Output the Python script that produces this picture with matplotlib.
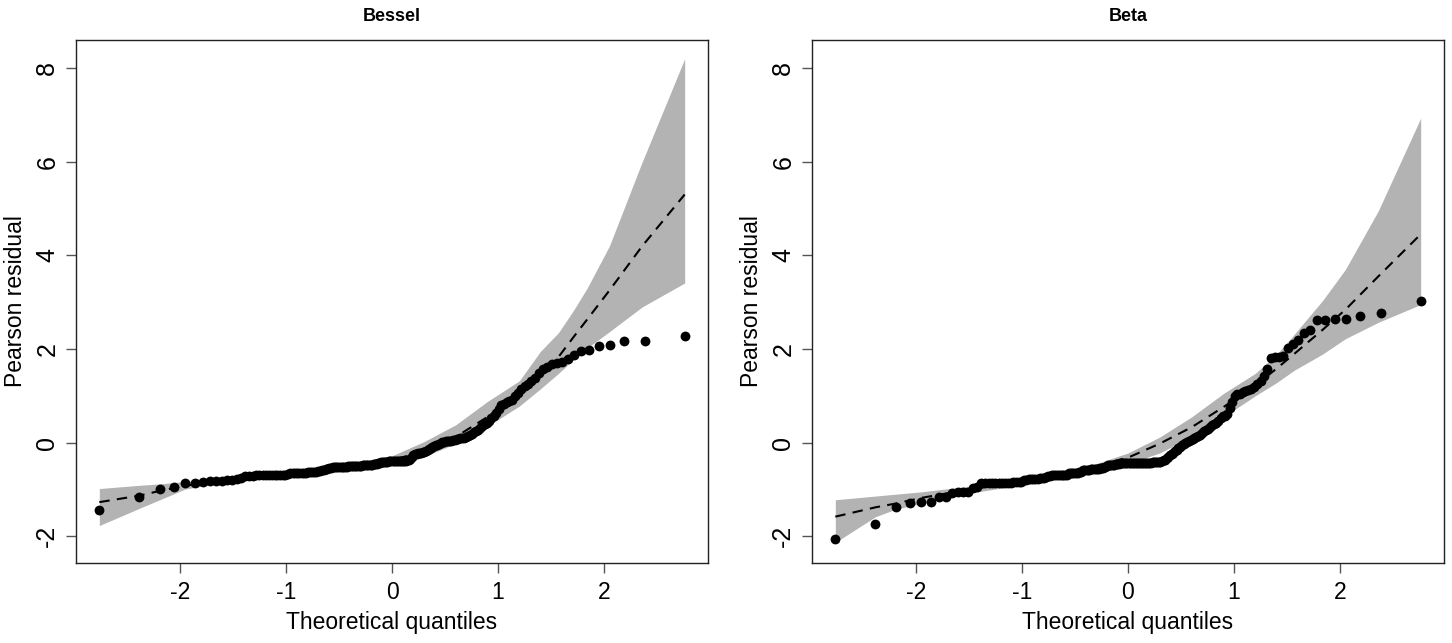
import matplotlib
matplotlib.use("Agg")
import matplotlib.pyplot as plt
import numpy as np
from statistics import NormalDist

plt.rcParams['font.family'] = ['Liberation Sans', 'DejaVu Sans']
plt.rcParams['axes.unicode_minus'] = False

# sorted Pearson residuals (Bessel model)
bessel_res = [
    -1.43, -1.17, -1.00, -0.94, -0.87, -0.86, -0.85, -0.82, -0.81, -0.81,
    -0.80, -0.79, -0.77, -0.75, -0.72,
    -0.71, -0.71, -0.70, -0.70, -0.70, -0.70, -0.70, -0.70, -0.69, -0.69,
    -0.69, -0.69, -0.68, -0.67,
    -0.65, -0.65, -0.65, -0.64, -0.64, -0.64, -0.64, -0.64, -0.63, -0.63,
    -0.63, -0.63, -0.62, -0.61, -0.60,
    -0.58, -0.58, -0.57, -0.56, -0.55, -0.54,
    -0.53, -0.53, -0.52, -0.52, -0.52, -0.51, -0.51, -0.51, -0.51, -0.50,
    -0.50, -0.50, -0.50, -0.50, -0.49, -0.49, -0.49, -0.49, -0.48, -0.48,
    -0.48, -0.48, -0.47, -0.47, -0.47, -0.46, -0.46, -0.45, -0.44, -0.43,
    -0.42, -0.41, -0.41, -0.41, -0.41, -0.40, -0.40, -0.40, -0.40, -0.40,
    -0.40, -0.40, -0.39, -0.39, -0.39, -0.39, -0.39, -0.38,
    -0.38, -0.34, -0.30, -0.27, -0.25, -0.24, -0.23, -0.22, -0.21, -0.20,
    -0.19, -0.18, -0.16, -0.14, -0.12, -0.10, -0.08, -0.06, -0.04, -0.02,
    0.00, 0.01, 0.02, 0.03, 0.03, 0.04, 0.04, 0.05, 0.06, 0.07,
    0.08, 0.09, 0.10, 0.11, 0.12, 0.14, 0.16, 0.19, 0.22, 0.25,
    0.28, 0.31, 0.35, 0.39, 0.43, 0.47, 0.53, 0.58, 0.63, 0.72,
    0.80, 0.83, 0.86, 0.89, 0.92, 0.99, 1.07, 1.14, 1.20, 1.25,
    1.31, 1.38, 1.48, 1.58, 1.62, 1.68, 1.70, 1.72, 1.79, 1.88,
    1.95, 1.97, 2.06, 2.08, 2.17, 2.18, 2.27,
]

# sorted Pearson residuals (Beta model)
beta_res = [
    -2.05, -1.73, -1.37, -1.28, -1.26, -1.26, -1.15, -1.15, -1.07, -1.06,
    -1.06, -1.05, -0.97, -0.95, -0.87,
    -0.87, -0.86, -0.86, -0.86, -0.86, -0.86, -0.86, -0.86, -0.86, -0.85,
    -0.85, -0.85, -0.84,
    -0.79, -0.79, -0.78, -0.78, -0.78, -0.77, -0.77, -0.76, -0.76, -0.75,
    -0.73,
    -0.71, -0.71, -0.70, -0.70, -0.70, -0.70, -0.70, -0.70, -0.69, -0.69,
    -0.68,
    -0.65, -0.65, -0.64, -0.64, -0.64, -0.64, -0.63, -0.62,
    -0.59, -0.59, -0.58, -0.58, -0.58, -0.57, -0.57, -0.57, -0.56, -0.56,
    -0.56, -0.55, -0.55, -0.54, -0.52,
    -0.49, -0.48, -0.48, -0.47, -0.47, -0.47, -0.46, -0.46, -0.45,
    -0.44, -0.44, -0.44, -0.44, -0.44, -0.43, -0.43, -0.43, -0.43, -0.43,
    -0.43, -0.43, -0.43, -0.43, -0.43, -0.43, -0.43, -0.43, -0.43, -0.43,
    -0.43, -0.42, -0.42, -0.42, -0.42, -0.42,
    -0.41, -0.40, -0.38, -0.36, -0.33, -0.30, -0.27, -0.24, -0.21, -0.18,
    -0.15, -0.12, -0.09, -0.06, -0.03, 0.00, 0.02, 0.03, 0.05, 0.07,
    0.09, 0.12, 0.14, 0.17, 0.21, 0.24, 0.27, 0.30, 0.34, 0.37,
    0.40, 0.43, 0.47, 0.53, 0.56, 0.58, 0.62, 0.75, 0.86, 1.00,
    1.03, 1.05, 1.08, 1.10, 1.12, 1.15, 1.18, 1.25, 1.32, 1.43,
    1.58, 1.80, 1.83, 1.84, 1.85, 2.03, 2.10, 2.20, 2.35, 2.41,
    2.62, 2.62, 2.64, 2.64, 2.71, 2.77, 3.03,
]

# simulated envelope (lower, median, upper) read at these quantiles
env_q = [-2.76, -2.38, -2.19, -1.95, -1.5, -1.0, -0.5, 0.0, 0.3, 0.6,
         0.9, 1.2, 1.4, 1.57, 1.71, 1.84, 2.05, 2.36, 2.76]

bessel_lo = [-1.77, -1.40, -1.22, -0.99, -0.82, -0.71, -0.57, -0.44, -0.30, -0.02,
             0.35, 0.78, 1.15, 1.48, 1.77, 2.02, 2.37, 2.90, 3.41]
bessel_med = [-1.27, -1.13, -1.03, -0.92, -0.78, -0.67, -0.53, -0.37, -0.19, 0.12,
              0.55, 1.06, 1.45, 1.83, 2.25, 2.63, 3.25, 4.20, 5.30]
bessel_hi = [-0.98, -0.91, -0.88, -0.83, -0.72, -0.62, -0.48, -0.28, 0.02, 0.38,
             0.88, 1.32, 1.95, 2.35, 2.82, 3.30, 4.20, 6.00, 8.20]

beta_lo = [-2.13, -1.58, -1.42, -1.30, -1.08, -0.90, -0.72, -0.45, -0.22, 0.13,
           0.55, 1.00, 1.28, 1.55, 1.73, 1.90, 2.22, 2.57, 2.95]
beta_med = [-1.58, -1.38, -1.30, -1.18, -1.00, -0.84, -0.62, -0.32, -0.02, 0.33,
            0.76, 1.22, 1.58, 1.90, 2.17, 2.42, 2.84, 3.55, 4.45]
beta_hi = [-1.22, -1.14, -1.10, -1.05, -0.93, -0.80, -0.60, -0.22, 0.12, 0.55,
           1.05, 1.48, 1.88, 2.32, 2.70, 3.05, 3.70, 4.95, 6.93]

titles = ["Bessel", "Beta"]


def theo_quantiles(n):
    nd = NormalDist()
    return np.array([nd.inv_cdf((i - 0.5) / n) for i in range(1, n + 1)])


fig = plt.figure(figsize=(14.52, 6.43), dpi=100)
W, H = 1452.0, 643.0
boxes = [(76, 40, 708, 563), (812, 40, 1444, 563)]

panels = [
    (bessel_res, bessel_lo, bessel_med, bessel_hi),
    (beta_res, beta_lo, beta_med, beta_hi),
]

for k, (res, lo, med, hi) in enumerate(panels):
    x0, y0, x1, y1 = boxes[k]
    ax = fig.add_axes([x0 / W, 1 - y1 / H, (x1 - x0) / W, (y1 - y0) / H])
    q = theo_quantiles(len(res))
    ax.fill_between(env_q, lo, hi, color='#b3b3b3', linewidth=0, zorder=1)
    ax.plot(env_q, med, color='black', linestyle=(0, (5, 3.5)), linewidth=1.5, zorder=2)
    ax.scatter(q, np.sort(res), s=50, color='black', linewidths=0, zorder=3)

    ax.set_xlim(-2.98, 2.98)
    ax.set_ylim(-2.57, 8.6)
    ax.set_xticks([-2, -1, 0, 1, 2])
    ax.set_yticks([-2, 0, 2, 4, 6, 8])
    ax.tick_params(direction='out', length=7, width=1, color='#555555', pad=6)
    ax.tick_params(axis='x', labelsize=16.5)
    ax.tick_params(axis='y', labelsize=18, pad=5)
    for lab in ax.get_yticklabels():
        lab.set_rotation(90)
        lab.set_va('center')
    for sp in ax.spines.values():
        sp.set_linewidth(1)
        sp.set_color('#222222')
    ax.set_xlabel("Theoretical quantiles", fontsize=16.5, labelpad=5)
    ax.set_ylabel("Pearson residual", fontsize=16.5, labelpad=6)
    ax.set_title(titles[k], fontsize=13, fontweight='bold', pad=14)

fig.savefig("out.png", dpi=100)
